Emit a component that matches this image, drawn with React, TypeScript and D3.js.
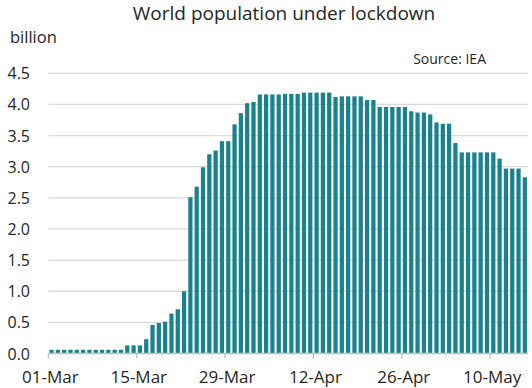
import React, { useEffect, useRef } from 'react';
import * as d3 from 'd3';

// daily dates, 01-Mar .. 15-May
const startDate = new Date(2020, 2, 1);
const dayCount = 76;
const dates: Date[] = d3.timeDay.range(startDate, d3.timeDay.offset(startDate, dayCount));

// billion people under lockdown
const lockdown: number[] = [
  0.06, 0.06, 0.06, 0.06, 0.06, 0.06, 0.06, 0.06, 0.06, 0.06, 0.06, 0.06,
  0.13, 0.13, 0.13, 0.23, 0.46, 0.49, 0.51, 0.64, 0.71, 1.0,
  2.51, 2.68, 2.99, 3.2, 3.26, 3.41, 3.41, 3.68, 3.86, 4.02, 4.04,
  4.16, 4.16, 4.16, 4.16, 4.17, 4.17, 4.17, 4.19, 4.19, 4.19, 4.19, 4.19,
  4.12, 4.13, 4.13, 4.13, 4.13, 4.07, 4.07,
  3.96, 3.96, 3.96, 3.96, 3.96, 3.89, 3.87, 3.87, 3.84, 3.71, 3.69, 3.69,
  3.38, 3.23, 3.23, 3.23, 3.23, 3.23, 3.23, 3.13, 2.97, 2.97, 2.97, 2.83,
];

const yTicks: number[] = [0, 0.5, 1, 1.5, 2, 2.5, 3, 3.5, 4, 4.5];
const labelEvery = 14;

const title = 'World population under lockdown';
const unitLabel = 'billion';
const sourceLabel = 'Source: IEA';

const W = 532, H = 388;
const FONT = '"Open Sans", sans-serif';

export default function App() {
  const ref = useRef<SVGSVGElement>(null);

  useEffect(() => {
    const svg = d3.select(ref.current);
    svg.selectAll('*').remove();

    const left = 48.4, right = 528, top = 73.3, bottom = 353.5;
    const pad = 0.33;

    const x = d3.scaleBand<number>()
      .domain(d3.range(dates.length))
      .range([left, right])
      .paddingInner(pad)
      .paddingOuter(pad / 2);
    const y = d3.scaleLinear().domain([0, 4.5]).range([bottom, top]);
    const edge = (i: number) => (x(i) as number) - x.step() * pad / 2;

    // gridlines
    svg.append('g')
      .selectAll('line')
      .data(yTicks.filter(d => d > 0))
      .join('line')
      .attr('x1', left).attr('x2', right)
      .attr('y1', d => y(d)).attr('y2', d => y(d))
      .attr('stroke', '#d9d9d9')
      .attr('stroke-width', 1.3);

    // bars
    svg.append('g')
      .selectAll('rect')
      .data(lockdown)
      .join('rect')
      .attr('x', (d, i) => x(i) as number)
      .attr('width', x.bandwidth())
      .attr('y', d => y(d))
      .attr('height', d => bottom - y(d))
      .attr('fill', '#17838f');

    // x axis
    const xa = svg.append('g');
    xa.append('line')
      .attr('x1', left).attr('x2', right)
      .attr('y1', bottom).attr('y2', bottom)
      .attr('stroke', '#bfbfbf').attr('stroke-width', 1.3);
    const tickIdx = d3.range(0, dates.length, labelEvery);
    xa.selectAll('line.tick')
      .data(tickIdx)
      .join('line')
      .attr('class', 'tick')
      .attr('x1', d => edge(d)).attr('x2', d => edge(d))
      .attr('y1', bottom).attr('y2', bottom + 5)
      .attr('stroke', '#bfbfbf').attr('stroke-width', 1.3);
    const fmt = d3.timeFormat('%d-%b');
    xa.selectAll('text')
      .data(tickIdx)
      .join('text')
      .attr('x', d => edge(d) + 2)
      .attr('y', 383)
      .attr('text-anchor', 'middle')
      .attr('font-family', FONT)
      .attr('font-size', 17)
      .attr('fill', '#262626')
      .text(d => fmt(dates[d]));

    // y labels
    svg.append('g')
      .selectAll('text')
      .data(yTicks)
      .join('text')
      .attr('x', 30)
      .attr('y', d => y(d) + 6)
      .attr('text-anchor', 'end')
      .attr('font-family', FONT)
      .attr('font-size', 16)
      .attr('fill', '#262626')
      .text(d => d3.format('.1f')(d));

    svg.append('text')
      .attr('x', 284).attr('y', 20)
      .attr('text-anchor', 'middle')
      .attr('font-family', FONT).attr('font-size', 19)
      .attr('fill', '#262626')
      .text(title);

    svg.append('text')
      .attr('x', 10).attr('y', 43)
      .attr('font-family', FONT).attr('font-size', 16.5)
      .attr('fill', '#262626')
      .text(unitLabel);

    svg.append('text')
      .attr('x', 486).attr('y', 64)
      .attr('text-anchor', 'end')
      .attr('font-family', FONT).attr('font-size', 14)
      .attr('fill', '#262626')
      .text(sourceLabel);
  }, []);

  return (
    <svg ref={ref} width={W} height={H}
      style={{ position: 'absolute', left: 0, top: 0, background: '#fff' }} />
  );
}
